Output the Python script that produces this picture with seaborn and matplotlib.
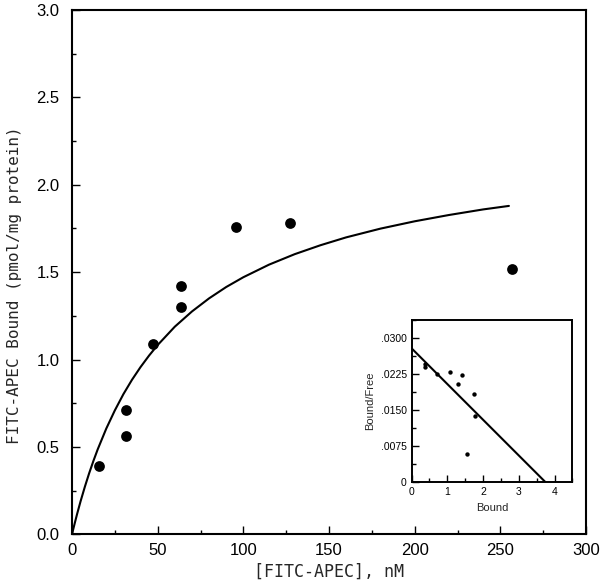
import matplotlib
matplotlib.use("Agg")
import matplotlib.pyplot as plt
from matplotlib.ticker import MultipleLocator, FixedLocator
import seaborn as sns
import pandas as pd

# ---- main saturation data ----
conc_nM = [15.6, 31.3, 31.3, 47.5, 63.6, 63.6, 95.7, 127.3, 256.7]
bound = [0.39, 0.56, 0.71, 1.09, 1.30, 1.42, 1.76, 1.78, 1.52]

# fitted curve
curve_x = [0, 1, 2, 3, 5, 7.5, 10, 12.5, 15, 20, 25, 30, 35, 40, 45, 50, 60, 70, 80, 90,
           100, 115, 130, 145, 160, 180, 200, 220, 240, 255]
curve_y = [0.0, 0.040, 0.079, 0.117, 0.189, 0.272, 0.349, 0.420, 0.486, 0.605, 0.709, 0.802,
           0.884, 0.957, 1.023, 1.083, 1.188, 1.275, 1.350, 1.415, 1.471, 1.543, 1.603, 1.654,
           1.699, 1.749, 1.791, 1.827, 1.859, 1.879]

# ---- Scatchard inset ----
sc_bound = [0.375, 0.375, 0.70, 1.08, 1.285, 1.42, 1.75, 1.78, 1.54]
sc_ratio = [0.0247, 0.0241, 0.0226, 0.0229, 0.0204, 0.0224, 0.0183, 0.0139, 0.0059]
sc_line_x = [0.0, 3.75]
sc_line_y = [0.0279, 0.0]

x_ticks = [0, 50, 100, 150, 200, 250, 300]
y_ticks = [0.0, 0.5, 1.0, 1.5, 2.0, 2.5, 3.0]
inset_x_ticks = [0, 1, 2, 3, 4]
inset_y_ticks = [0.0, 0.0075, 0.0150, 0.0225, 0.0300]
inset_y_labels = ["0", ".0075", ".0150", ".0225", ".0300"]

sns.set_style("ticks")
plt.rcParams['font.family'] = ['Liberation Sans', 'DejaVu Sans']

fig = plt.figure(figsize=(6.0, 5.88), dpi=100)
ax = fig.add_axes([0.12, 0.0913, 0.8567, 0.8917])

main_df = pd.DataFrame({"x": conc_nM, "y": bound})
curve_df = pd.DataFrame({"x": curve_x, "y": curve_y})
sns.lineplot(data=curve_df, x="x", y="y", ax=ax, color="black", lw=1.5, sort=False, estimator=None)
sns.scatterplot(data=main_df, x="x", y="y", ax=ax, color="black", s=60, edgecolor="black", linewidth=0)

ax.set_xlim(0, 300)
ax.set_ylim(0, 3.0)
ax.xaxis.set_major_locator(FixedLocator(x_ticks))
ax.yaxis.set_major_locator(FixedLocator(y_ticks))
ax.xaxis.set_minor_locator(MultipleLocator(25))
ax.yaxis.set_minor_locator(MultipleLocator(0.25))
ax.set_yticklabels([f"{v:.1f}" for v in y_ticks])
ax.set_xticklabels([str(v) for v in x_ticks])
ax.tick_params(which="both", direction="in", width=1.0, labelsize=12, colors="black")
ax.tick_params(which="major", length=6)
ax.tick_params(which="minor", length=3)
ax.tick_params(axis="x", pad=6)
ax.tick_params(axis="y", pad=9)
for s in ax.spines.values():
    s.set_linewidth(1.5)
    s.set_color("black")
ax.set_xlabel("[FITC-APEC], nM", fontsize=12, family="DejaVu Sans Mono", labelpad=4)
ax.set_ylabel("FITC-APEC Bound (pmol/mg protein)", fontsize=11.5, family="DejaVu Sans Mono")
ax.yaxis.set_label_coords(-0.098, 0.475)

# inset
axi = fig.add_axes([0.686, 0.1798, 0.268, 0.276])
sc_df = pd.DataFrame({"x": sc_bound, "y": sc_ratio})
line_df = pd.DataFrame({"x": sc_line_x, "y": sc_line_y})
sns.lineplot(data=line_df, x="x", y="y", ax=axi, color="black", lw=1.5, sort=False, estimator=None)
sns.scatterplot(data=sc_df, x="x", y="y", ax=axi, color="black", s=10, linewidth=0)
axi.set_xlim(0, 4.5)
axi.set_ylim(0, 0.0338)
axi.xaxis.set_major_locator(FixedLocator(inset_x_ticks))
axi.yaxis.set_major_locator(FixedLocator(inset_y_ticks))
axi.xaxis.set_minor_locator(MultipleLocator(0.5))
axi.yaxis.set_minor_locator(MultipleLocator(0.00375))
axi.set_xticklabels([str(v) for v in inset_x_ticks])
axi.set_yticklabels(inset_y_labels)
axi.tick_params(which="both", direction="in", labelsize=7.5, colors="black", width=1.0)
axi.tick_params(which="major", length=5)
axi.tick_params(which="minor", length=3)
for s in axi.spines.values():
    s.set_linewidth(1.4)
    s.set_color("black")
axi.set_xlabel("Bound", fontsize=8)
axi.set_ylabel("Bound/Free", fontsize=8)

fig.savefig("out.png", dpi=100)
